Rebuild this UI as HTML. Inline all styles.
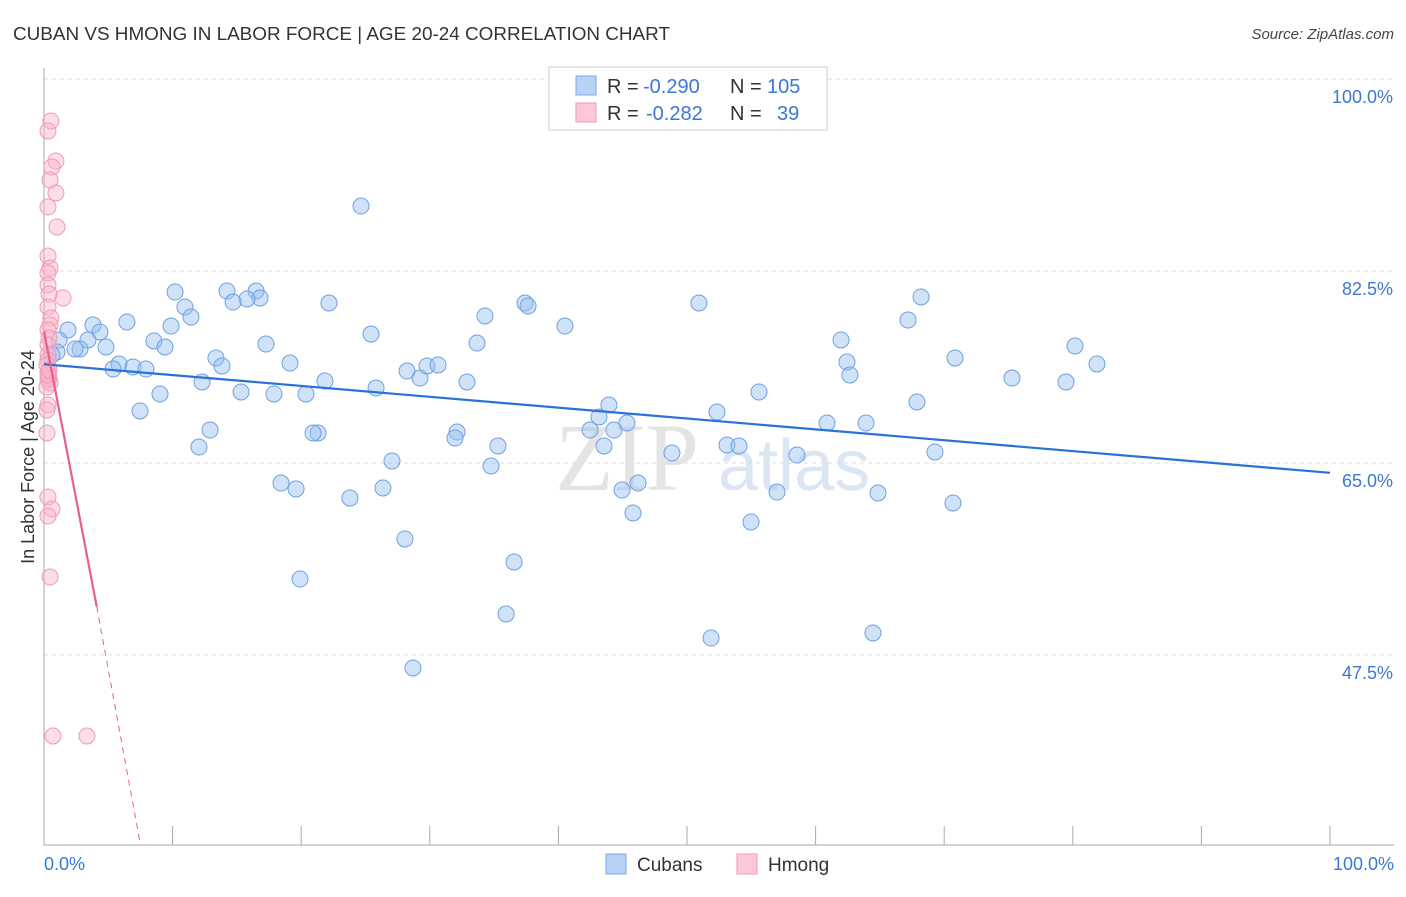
<!DOCTYPE html>
<html><head><meta charset="utf-8"><style>
body{margin:0;background:#fff;font-family:"Liberation Sans",sans-serif;}
</style></head><body>
<svg id="chart" width="1406" height="892" xmlns="http://www.w3.org/2000/svg" font-family="Liberation Sans, sans-serif">
<text x="13" y="40" font-size="18" fill="#333" textLength="657" lengthAdjust="spacingAndGlyphs">CUBAN VS HMONG IN LABOR FORCE | AGE 20-24 CORRELATION CHART</text>
<text x="1394" y="39" font-size="15" fill="#444" text-anchor="end" font-style="italic">Source: ZipAtlas.com</text>
<text x="555" y="490" font-size="96" fill="#e4e4e4" font-family="Liberation Serif, serif">ZIP</text>
<text x="718" y="490" font-size="72" fill="#dbe6f5">atlas</text>
<g id="grid"></g>
<line x1="44" y1="68" x2="44" y2="845" stroke="#aaa"/>
<line x1="44" y1="845" x2="1394" y2="845" stroke="#aaa"/>
<g id="xticks"></g>
<text transform="translate(34,457) rotate(-90)" font-size="18" fill="#333" text-anchor="middle">In Labor Force | Age 20-24</text>
<text x="44" y="870" font-size="18" fill="#3a78d4">0.0%</text>
<text x="1394" y="870" font-size="18" fill="#3a78d4" text-anchor="end">100.0%</text>
<g id="pts"></g>
<g id="lines"></g>
<g font-size="20">
<rect x="549" y="67" width="278" height="63" fill="#fff" stroke="#ccc"/>
<rect x="576" y="76" width="20" height="19" fill="#b8d2f5" stroke="#7aa8e8"/>
<rect x="576" y="103" width="20" height="19" fill="#fcc8d8" stroke="#f09ab5"/>
<text x="607" y="93" fill="#333">R =</text>
<text x="643" y="93" fill="#3a78d4">-0.290</text>
<text x="730" y="93" fill="#333">N =</text>
<text x="767" y="93" fill="#3a78d4">105</text>
<text x="607" y="120" fill="#333">R =</text>
<text x="646" y="120" fill="#3a78d4">-0.282</text>
<text x="730" y="120" fill="#333">N =</text>
<text x="777" y="120" fill="#3a78d4">39</text>
</g>
<g>
<rect x="606" y="854" width="20" height="20" fill="#b8d2f5" stroke="#7aa8e8"/>
<text x="637" y="871" font-size="19" fill="#333">Cubans</text>
<rect x="737" y="854" width="20" height="20" fill="#fcc8d8" stroke="#f09ab5"/>
<text x="768" y="871" font-size="19" fill="#333">Hmong</text>
</g>
</svg>
<script>
const yTicks=[100,82.5,65,47.5];
const yTickLabels=["100.0%","82.5%","65.0%","47.5%"];
const bluePx=[[361,206],[175,292],[227,291],[256,291],[260,298],[247,299],[233,302],[329,303],[185,307],[191,317],[127,322],[171,326],[93,325],[68,330],[100,332],[59,340],[88,340],[154,341],[165,347],[106,347],[80,349],[75,349],[57,352],[52,355],[371,334],[266,344],[216,358],[222,366],[290,363],[119,364],[133,367],[146,369],[113,369],[202,382],[325,381],[241,392],[274,394],[306,394],[160,394],[140,411],[376,388],[407,371],[420,378],[427,366],[438,365],[467,382],[485,316],[477,343],[525,303],[528,306],[565,326],[699,303],[921,297],[908,320],[841,340],[847,362],[850,375],[955,358],[1075,346],[1097,364],[1012,378],[1066,382],[759,392],[917,402],[717,412],[599,417],[609,405],[627,423],[590,430],[614,430],[604,446],[457,432],[455,438],[498,446],[491,466],[392,461],[210,430],[199,447],[318,433],[313,433],[727,445],[739,446],[672,453],[797,455],[827,423],[866,423],[935,452],[281,483],[296,489],[383,488],[350,498],[622,490],[638,483],[777,492],[878,493],[953,503],[633,513],[751,522],[405,539],[514,562],[300,579],[506,614],[711,638],[873,633],[413,668]];
const pinkPx=[[51,121],[48,131],[56,161],[52,167],[50,180],[56,193],[48,207],[57,227],[48,256],[50,268],[48,273],[48,285],[63,298],[49,294],[48,307],[51,318],[50,325],[48,330],[49,338],[48,345],[48,355],[48,360],[47,365],[48,372],[49,378],[50,383],[48,380],[47,387],[48,405],[47,410],[47,433],[48,497],[52,509],[48,516],[50,577],[53,736],[87,736],[48,375],[49,370]];
const cubanX=bluePx.map(p=>+((p[0]-44)/12.86).toFixed(2));
const cubanY=bluePx.map(p=>+(100-(p[1]-79)/10.97).toFixed(2));
const hmongX=pinkPx.map(p=>+((p[0]-44)/12.86).toFixed(2));
const hmongY=pinkPx.map(p=>+(100-(p[1]-79)/10.97).toFixed(2));
const cubanTrend=[[0,74.0],[100,64.1]];
const hmongTrend=[[0,77.0],[4.1,51.9]];
const hmongDash=[[4.1,51.9],[7.5,30.2]];
const X=v=>44+v*12.86, Y=v=>79+(100-v)*10.97;
const NS="http://www.w3.org/2000/svg";
function mk(tag,attrs,parent){const e=document.createElementNS(NS,tag);for(const k in attrs)e.setAttribute(k,attrs[k]);document.getElementById(parent).appendChild(e);return e;}
yTicks.forEach((t,i)=>{
 const l=mk('line',{x1:44,x2:1394,y1:Y(t),y2:Y(t),stroke:'#ddd','stroke-dasharray':'4,4'},'grid');
 
 
 const tx=mk('text',{x:1393,y:Y(t)+24,'font-size':18,fill:'#3a78d4','text-anchor':'end'},'grid');
 tx.textContent=yTickLabels[i];
 
 
});
for(let i=0;i<=10;i++){
 const l=mk('line',{x1:X(i*10),x2:X(i*10),y1:826,y2:845,stroke:'#aaa'},'xticks');
 
 
}
cubanX.forEach((x,i)=>{
 const c=mk('circle',{cx:X(x),cy:Y(cubanY[i]),r:8,fill:'rgba(150,190,240,0.45)',stroke:'#6fa0e4','stroke-width':1},'pts');
 
 
});
hmongX.forEach((x,i)=>{
 const c=mk('circle',{cx:X(x),cy:Y(hmongY[i]),r:8,fill:'rgba(250,180,200,0.45)',stroke:'#f09ab5','stroke-width':1},'pts');
 
 
});
let l1=mk('line',{x1:X(cubanTrend[0][0]),y1:Y(cubanTrend[0][1]),x2:X(cubanTrend[1][0]),y2:Y(cubanTrend[1][1]),stroke:'#2a72d8','stroke-width':2.2},'lines');


let l2=mk('line',{x1:X(hmongTrend[0][0]),y1:Y(hmongTrend[0][1]),x2:X(hmongTrend[1][0]),y2:Y(hmongTrend[1][1]),stroke:'#e8608a','stroke-width':2.2},'lines');


let l3=mk('line',{x1:X(hmongDash[0][0]),y1:Y(hmongDash[0][1]),x2:X(hmongDash[1][0]),y2:Y(hmongDash[1][1]),stroke:'#e8608a','stroke-width':1,'stroke-dasharray':'6,5'},'lines');


</script>
</body></html>
